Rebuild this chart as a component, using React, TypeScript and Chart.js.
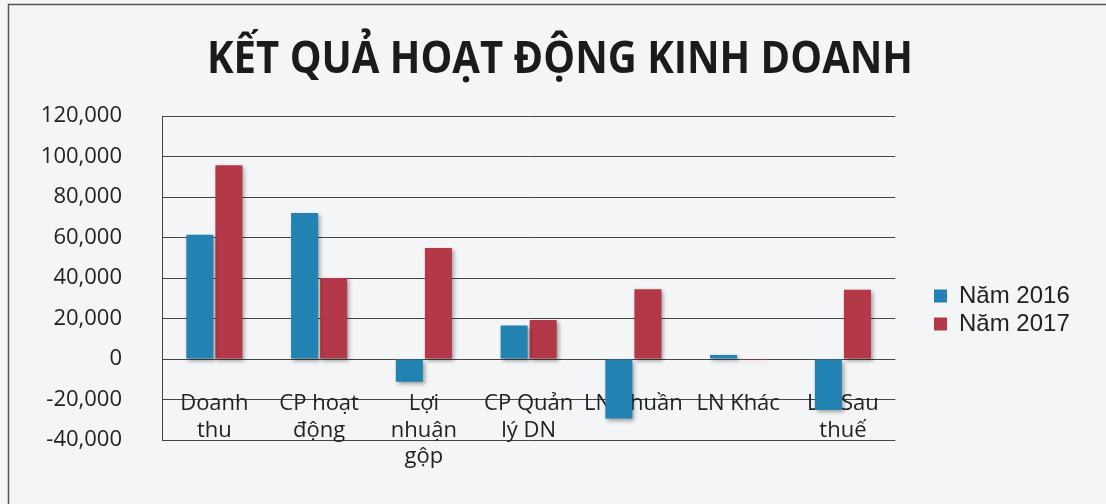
import React, { useEffect, useRef } from "react";
import { Chart, registerables } from "chart.js";

Chart.register(...registerables);

const categories: (string | string[])[] = [
  ["Doanh", "thu"],
  ["CP hoạt", "động"],
  ["Lợi", "nhuận", "gộp"],
  ["CP Quản", "lý DN"],
  "LN Thuần",
  "LN Khác",
  ["LN Sau", "thuế"],
];
const series2016 = [61400, 72100, -11200, 16500, -29400, 2000, -25200];
const series2017 = [95700, 40000, 54800, 19300, 34500, -500, 34200];
const seriesNames = ["Năm 2016", "Năm 2017"];
const titleText = "KẾT QUẢ HOẠT ĐỘNG KINH DOANH";
const yMin = -40000;
const yMax = 120000;
const yStep = 20000;

const BLUE = "#2282b2";
const RED = "#b33848";
const GRID = "#454545";
const TEXT = "#222222";
const BG = "#f4f5f7";

const bgPlugin = {
  id: "bgBorder",
  beforeDraw(chart: any) {
    const { ctx, width, height } = chart;
    ctx.save();
    ctx.fillStyle = BG;
    ctx.fillRect(0, 0, width, height);
    ctx.strokeStyle = "#555";
    ctx.lineWidth = 1.5;
    ctx.beginPath();
    ctx.moveTo(8.5, height);
    ctx.lineTo(8.5, 4.5);
    ctx.lineTo(width, 4.5);
    ctx.stroke();
    ctx.restore();
  },
};

const titlePlugin = {
  id: "squeezedTitle",
  afterDraw(chart: any) {
    const ctx = chart.ctx;
    ctx.save();
    ctx.font = "bold 45px 'Open Sans', sans-serif";
    ctx.fillStyle = "#1b1b1b";
    ctx.textBaseline = "alphabetic";
    ctx.textAlign = "left";
    const w = ctx.measureText(titleText).width;
    const target = 706;
    const sx = target / w;
    ctx.translate(207, 73);
    ctx.scale(sx, 1);
    ctx.fillText(titleText, 0, 0);
    ctx.restore();
  },
};

const legendMovePlugin = {
  id: "legendMove",
  afterLayout(chart: any) {
    const lg = chart.legend;
    if (!lg) return;
    const h = lg.bottom - lg.top;
    const w = lg.right - lg.left;
    lg.top = 280;
    lg.bottom = 280 + h;
    lg.left = 930;
    lg.right = 930 + w;
  },
};

const shadowPlugin = {
  id: "barShadow",
  beforeDatasetsDraw(chart: any) {
    const ctx = chart.ctx;
    ctx.save();
    ctx.shadowColor = "rgba(0,0,0,0.35)";
    ctx.shadowBlur = 4;
    ctx.shadowOffsetX = 2;
    ctx.shadowOffsetY = 2;
  },
  afterDatasetsDraw(chart: any) {
    chart.ctx.restore();
  },
};

export default function App() {
  const ref = useRef<HTMLCanvasElement | null>(null);
  useEffect(() => {
    if (!ref.current) return;
    const chart = new Chart(ref.current, {
      type: "bar",
      data: {
        labels: categories,
        datasets: [
          { label: seriesNames[0], data: series2016, backgroundColor: BLUE, categoryPercentage: 0.555, barPercentage: 0.93 },
          { label: seriesNames[1], data: series2017, backgroundColor: RED, categoryPercentage: 0.555, barPercentage: 0.93 },
        ],
      },
      options: {
        responsive: false,
        animation: false,
        devicePixelRatio: 1,
        layout: { padding: { left: 10, right: 61, top: 116, bottom: 64 } },
        plugins: {
          tooltip: { enabled: false },
          title: { display: false },
          legend: {
            position: "right",
            align: "start",
            labels: {
              color: TEXT,
              boxWidth: 13,
              boxHeight: 13,
              padding: 4,
              font: { family: "'Liberation Sans', Arial, sans-serif", size: 24 },
            },
          },
        },
        scales: {
          x: {
            position: { y: 0 } as any,
            grid: { display: false, drawTicks: false },
            border: { display: false },
            ticks: {
              color: TEXT,
              padding: 32,
              maxRotation: 0,
              autoSkip: false,
              font: { family: "'Open Sans', sans-serif", size: 22 },
            },
          },
          y: {
            min: yMin,
            max: yMax,
            grid: { color: GRID, lineWidth: 1, drawTicks: false },
            border: { display: true, color: GRID, width: 1 },
            afterFit(scale: any) {
              scale.width = 152;
            },
            ticks: {
              stepSize: yStep,
              color: TEXT,
              padding: 40,
              font: { family: "'Open Sans', sans-serif", size: 22 },
              callback: (v: any) => Number(v).toLocaleString("en-US"),
            },
          },
        },
      },
      plugins: [bgPlugin, shadowPlugin, legendMovePlugin, titlePlugin],
    });
    return () => chart.destroy();
  }, []);
  return (
    <div style={{ position: "fixed", left: 0, top: 0, width: 1106, height: 504 }}>
      <canvas ref={ref} width={1106} height={504} />
    </div>
  );
}
